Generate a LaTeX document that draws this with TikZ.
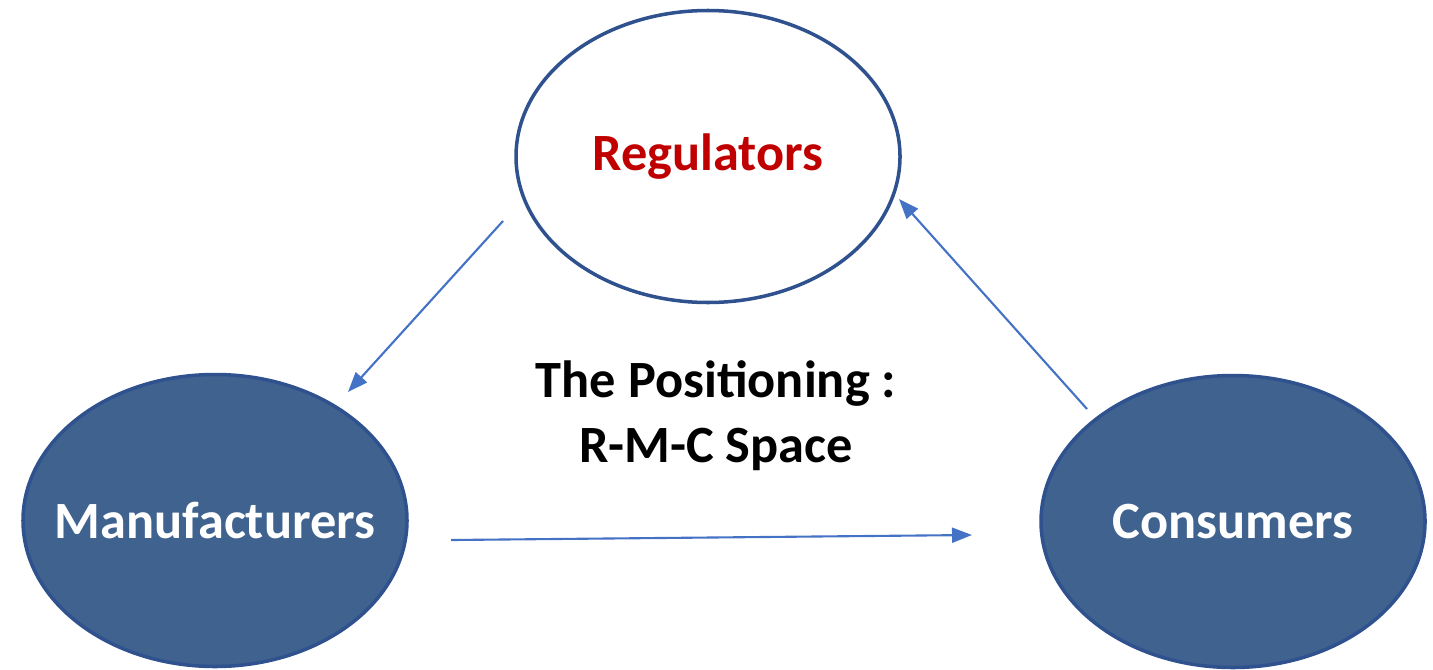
\documentclass[tikz,border=0pt]{standalone}
\usepackage{fontspec}
\setmainfont{Carlito}
\usetikzlibrary{arrows.meta,shapes.geometric}

\definecolor{bubblefill}{RGB}{63,98,143}
\definecolor{bubbleline}{RGB}{47,82,143}
\definecolor{arrowblue}{RGB}{68,114,196}
\definecolor{regred}{RGB}{192,0,0}

\begin{document}
\begin{tikzpicture}[
    actor/.style={ellipse,draw=bubbleline,line width=1pt,minimum width=3.84cm,minimum height=2.92cm,inner sep=0pt},
    actorname/.style={font=\fontsize{14.9}{18.5}\selectfont\bfseries},
    flow/.style={draw=arrowblue,line width=0.6pt,-{Triangle[length=2mm,width=1.5mm]}}
  ]

            \useasboundingbox (0,0) rectangle (14.33,6.69);

            \node[actor,fill=white,label={[actorname,text=regred]center:Regulators}] (reg) at (7.08,5.125) {};
            \node[actor,fill=bubblefill,label={[actorname,text=white]center:Manufacturers}] (man) at (2.15,1.485) {};
            \node[actor,fill=bubblefill,label={[actorname,text=white]center:Consumers}] (con) at (12.33,1.475) {};

            \node[actorname,align=center] (title) at (7.16,2.53) {The Positioning :\\R-M-C Space};

            \coordinate (reg-out) at (5.03,4.48);
            \coordinate (man-in) at (3.48,2.77);
            \coordinate (man-out) at (4.51,1.29);
            \coordinate (con-in) at (9.72,1.34);
            \coordinate (con-out) at (10.87,2.60);
            \coordinate (reg-in) at (8.99,4.70);

            \draw[flow] (reg-out) -- (man-in);
            \draw[flow] (man-out) -- (con-in);
            \draw[flow] (con-out) -- (reg-in);
        \end{tikzpicture}
\end{document}
